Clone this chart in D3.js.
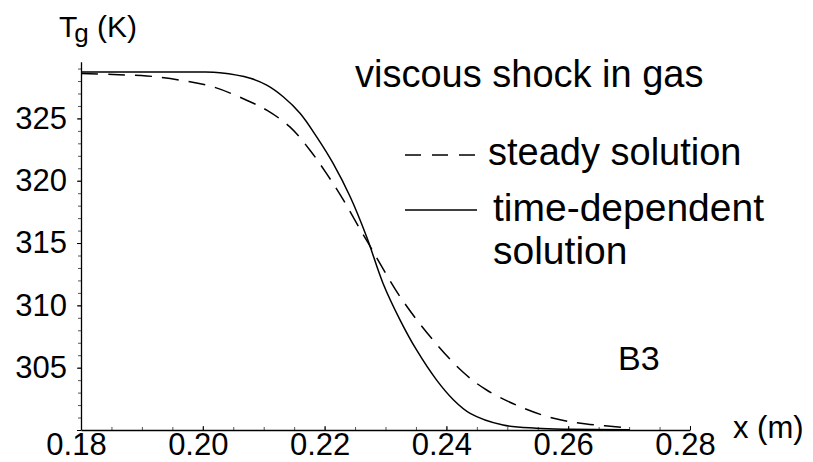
<!DOCTYPE html>
<html><head><meta charset="utf-8">
<script src="https://cdn.jsdelivr.net/npm/d3@7"></script>
<style>
body{margin:0;background:#fff}
text{font-family:"Liberation Sans",Arial,Helvetica,sans-serif;fill:#000}
</style>
</head><body>
<svg id="c" width="813" height="462"></svg>
<script>
// Steady solution (dashed)
const xSteady = [0.18, 0.1853, 0.1908, 0.1963, 0.2017, 0.2072, 0.2105, 0.2143, 0.2176, 0.2203, 0.2231, 0.2258, 0.2272, 0.2324, 0.2378, 0.2428, 0.2466, 0.2521, 0.2576, 0.2630, 0.2701];
const tSteady = [328.60, 328.52, 328.41, 328.07, 327.53, 326.46, 325.66, 324.32, 322.45, 320.59, 318.44, 316.12, 314.97, 310.69, 307.22, 304.61, 303.21, 301.87, 300.94, 300.48, 300.18];
// Time-dependent solution (solid)
const xTime = [0.18, 0.1913, 0.1995, 0.2028, 0.2078, 0.2105, 0.2132, 0.2160, 0.2187, 0.2214, 0.2242, 0.2269, 0.2296, 0.2324, 0.2351, 0.2384, 0.2411, 0.2439, 0.2493, 0.2548, 0.2603, 0.2701];
const tTime = [328.73, 328.73, 328.72, 328.66, 328.22, 327.67, 326.74, 325.40, 323.52, 321.39, 318.71, 315.50, 311.76, 308.82, 306.42, 304.00, 302.45, 301.34, 300.40, 300.14, 300.06, 300.02];
const xTicks = [0.18, 0.20, 0.22, 0.24, 0.26, 0.28];
const yTicks = [300, 305, 310, 315, 320, 325];
const yTickLabels = ["", "305", "310", "315", "320", "325"];

const svg = d3.select("#c");
const x = d3.scaleLinear().domain([0.18, 0.28]).range([81, 690]);
const y = d3.scaleLinear().domain([300, 329.55]).range([430, 61.7]);

// Y axis minor ticks
const yMinor = svg.append("g").attr("transform", "translate(81,0)")
  .call(d3.axisLeft(y).tickValues(d3.range(300, 330, 1)).tickSize(3).tickSizeOuter(0).tickFormat(""));
yMinor.select(".domain").remove();
yMinor.selectAll("line").attr("stroke", "#555");
// Y axis major
const yAx = svg.append("g").attr("transform", "translate(81,0)")
  .call(d3.axisLeft(y).tickValues(yTicks).tickSize(4).tickSizeOuter(0).tickPadding(10)
    .tickFormat((d, i) => yTickLabels[i]));
yAx.select(".domain").attr("stroke", "#000").attr("stroke-width", 1.3);
yAx.selectAll("text").style("font-size", "31px");

// X axis minor
const xMinor = svg.append("g").attr("transform", "translate(0,430)")
  .call(d3.axisBottom(x).tickValues(d3.range(0, 21).map(i => 0.18 + i * 0.005)).tickSize(-3).tickSizeOuter(0).tickFormat(""));
xMinor.select(".domain").remove();
xMinor.selectAll("line").attr("stroke", "#555");
const xAx = svg.append("g").attr("transform", "translate(0,430)")
  .call(d3.axisBottom(x).tickValues(xTicks).tickSize(-4).tickSizeOuter(0).tickPadding(3).tickFormat(d3.format(".2f")));
xAx.select(".domain").attr("stroke", "#000").attr("stroke-width", 1.3);
xAx.selectAll("text").style("font-size", "31px").attr("x", -5);

// Curves
const line = d3.line().x(d => x(d[0])).y(d => y(d[1])).curve(d3.curveCatmullRom.alpha(0.5));
svg.append("path").datum(xSteady.map((v, i) => [v, tSteady[i]]))
  .attr("d", line).attr("fill", "none").attr("stroke", "#000").attr("stroke-width", 1.5)
  .attr("stroke-dasharray", "17,10");
svg.append("path").datum(xTime.map((v, i) => [v, tTime[i]]))
  .attr("d", line).attr("fill", "none").attr("stroke", "#000").attr("stroke-width", 1.5);

// Axis labels
const yl = svg.append("text").attr("x", 59).attr("y", 37).style("font-size", "30px");
yl.append("tspan").text("T");
yl.append("tspan").attr("dx", -3).attr("dy", 5).style("font-size", "26px").text("g");
yl.append("tspan").attr("x", 97).attr("dy", -5).text("(K)");
svg.append("text").attr("x", 733).attr("y", 438).style("font-size", "31px").text("x (m)");

// Annotations
svg.append("text").attr("x", 355).attr("y", 87).style("font-size", "38px").text("viscous shock in gas");
svg.append("line").attr("x1", 405).attr("x2", 483).attr("y1", 155).attr("y2", 155)
  .attr("stroke", "#000").attr("stroke-width", 1.5).attr("stroke-dasharray", "16,11");
svg.append("text").attr("x", 488).attr("y", 165).style("font-size", "38px").text("steady solution");
svg.append("line").attr("x1", 405).attr("x2", 477).attr("y1", 210).attr("y2", 210)
  .attr("stroke", "#000").attr("stroke-width", 1.5);
svg.append("text").attr("x", 493).attr("y", 221).style("font-size", "39px").text("time-dependent");
svg.append("text").attr("x", 493).attr("y", 264).style("font-size", "39px").text("solution");
svg.append("text").attr("x", 618).attr("y", 370).style("font-size", "34px").text("B3");
</script>
</body></html>
